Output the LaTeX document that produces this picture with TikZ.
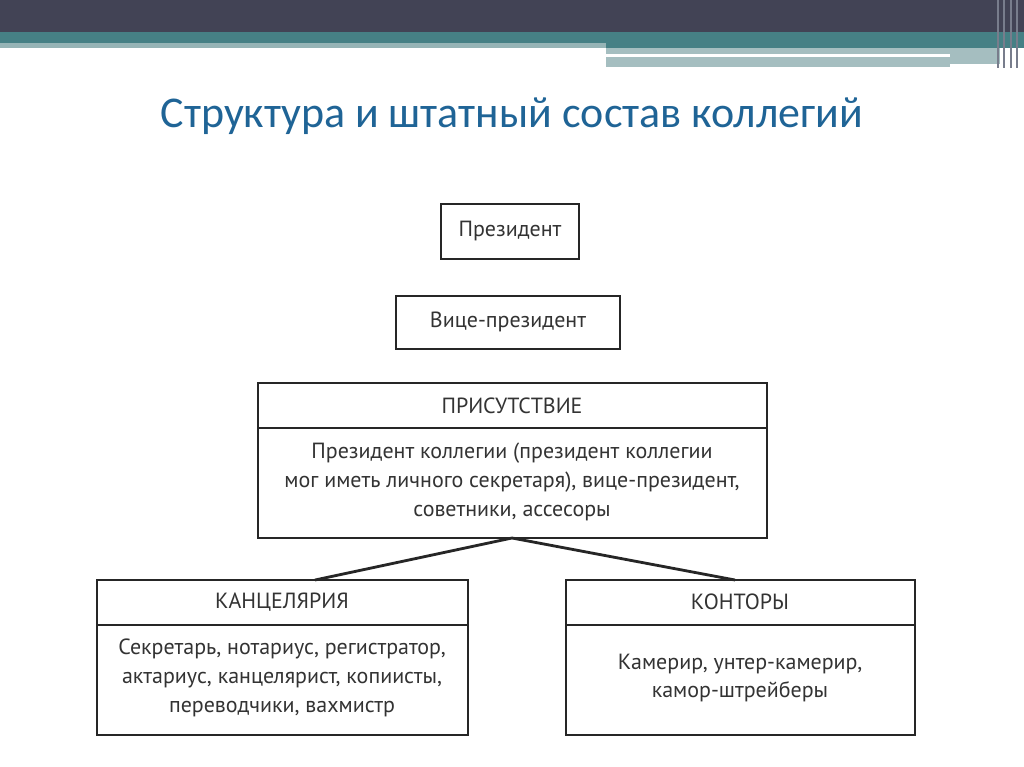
\documentclass[tikz,border=0pt]{standalone}
\usepackage{fontspec}
\setmainfont{PT Sans}
\newfontfamily\titlefont{Carlito}
\begin{document}
\begin{tikzpicture}[x=0.02cm,y=-0.02cm,
  bx/.style={draw=black!85,line width=1.6pt},
  lbl/.style={font=\fontsize{12.5}{16.5}\selectfont,text=black!80,align=center}]
\useasboundingbox (0,0) rectangle (1024,767);
\fill[white] (0,0) rectangle (1024,767);
% top bar
\fill[fill={rgb,255:red,66;green,67;blue,85}] (0,0) rectangle (1024,32);
\fill[fill={rgb,255:red,70;green,128;blue,133}] (0,32) rectangle (1024,48);
\fill[fill={rgb,255:red,150;green,180;blue,182}] (0,43) rectangle (606,48);
\fill[fill={rgb,255:red,165;green,190;blue,192}] (606,48) rectangle (1000,54);
\fill[fill={rgb,255:red,165;green,190;blue,192}] (606,57) rectangle (950,67);
\fill[fill={rgb,255:red,165;green,190;blue,192}] (950,54) rectangle (1000,64);
\foreach \xx in {997,1003,1010,1016}
  \fill[fill={rgb,255:red,120;green,125;blue,140}] (\xx,0) rectangle (\xx+2,68);
% title
\node[font=\titlefont\fontsize{25}{30}\selectfont,text={rgb,255:red,31;green,100;blue,150}] (title) at (512,116) {Структура и штатный состав коллегий};
% boxes
\draw[bx] (441,204) rectangle (579,259);
\node[lbl] (pres) at (510,231) {Президент};
\draw[bx] (396,296) rectangle (620,349);
\node[lbl] (vice) at (508,322) {Вице-президент};
\draw[bx] (258,383) rectangle (767,538);
\draw[bx] (258,428) -- (767,428);
\node[lbl] (prh) at (512,406) {ПРИСУТСТВИЕ};
\node[lbl] (prb) at (512,482) {Президент коллегии (президент коллегии\\мог иметь личного секретаря), вице-президент,\\советники, ассесоры};
\draw[bx] (97,580) rectangle (468,735);
\draw[bx] (97,625) -- (468,625);
\node[lbl] (kh) at (282,602) {КАНЦЕЛЯРИЯ};
\node[lbl] (kb) at (282,678) {Секретарь, нотариус, регистратор,\\актариус, канцелярист, копиисты,\\переводчики, вахмистр};
\draw[bx] (566,580) rectangle (915,735);
\draw[bx] (566,625) -- (915,625);
\node[lbl] (ch) at (740,602) {КОНТОРЫ};
\node[lbl] (cb) at (740,678) {Камерир, унтер-камерир,\\камор-штрейберы};
\coordinate (top) at (512,538);
\coordinate (l) at (315,580);
\coordinate (r) at (735,580);
\draw[bx] (top) -- (l);
\draw[bx] (top) -- (r);
\end{tikzpicture}
\end{document}
